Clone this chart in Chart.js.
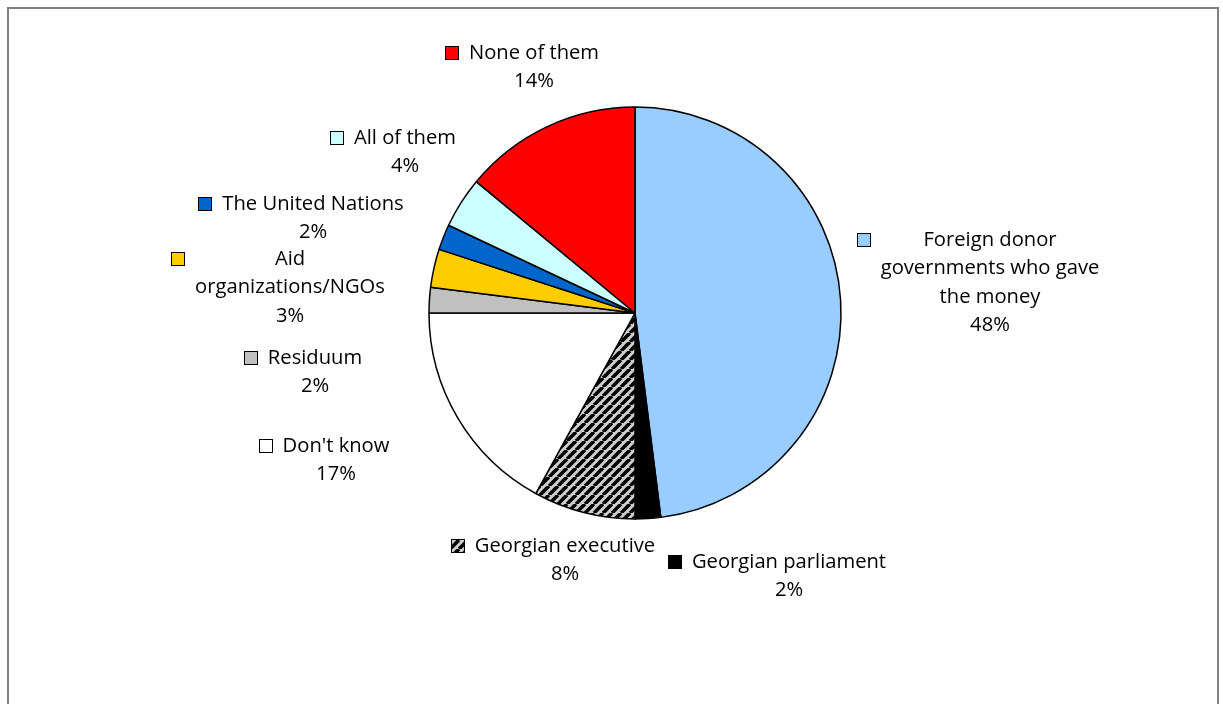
<!DOCTYPE html>
<html>
<head>
<meta charset="utf-8">
<script src="https://cdn.jsdelivr.net/npm/chart.js@4/dist/chart.umd.min.js"></script>
<style>
  html, body { margin: 0; padding: 0; background: #fff; overflow: hidden; }
  #frame { position: absolute; left: 7px; top: 7px; width: 1212px; height: 720px; border: 2px solid #808080; box-sizing: border-box; }
  #wrap { position: absolute; left: 0; top: 0; width: 1223px; height: 704px; }
</style>
</head>
<body>
<div id="frame"></div>
<div id="wrap"><canvas id="c"></canvas></div>
<script>
// Trust in aid spending — who should control it (shares, %)
const categories = ['Foreign donor governments who gave the money', 'Georgian parliament', 'Georgian executive',
  "Don't know", 'Residuum', 'Aid organizations/NGOs', 'The United Nations', 'All of them', 'None of them'];
const labelLines = [['Foreign donor', 'governments who gave', 'the money'], ['Georgian parliament'], ['Georgian executive'],
  ["Don't know"], ['Residuum'], ['Aid', 'organizations/NGOs'], ['The United Nations'], ['All of them'], ['None of them']];
const shares = [48, 2, 8, 17, 2, 3, 2, 4, 14];

const FONT = '20.2px "Open Sans", Lato, sans-serif';
const LINE_H = 28.5;
// label block anchors: [center x of text, mid y of first line], relative to pie centre
const labelAt = [[355, -73], [154, 249], [-70, 233], [-299, 133], [-320, 45], [-345, -54], [-322, -109], [-230, -175], [-101, -260]];

function hatch(size) {
  const p = document.createElement('canvas');
  p.width = p.height = size;
  const g = p.getContext('2d');
  g.fillStyle = '#cfcfcf';
  g.fillRect(0, 0, size, size);
  g.strokeStyle = '#000';
  g.lineWidth = size * 0.4;
  for (const o of [-size, 0, size]) {
    g.beginPath(); g.moveTo(o, size); g.lineTo(o + size, 0); g.stroke();
  }
  return g.createPattern(p, 'repeat');
}
const ctx2d = document.getElementById('c').getContext('2d');
const HATCH = hatch(9);
const colors = ['#99CCFF', '#000000', HATCH, '#FFFFFF', '#C0C0C0', '#FFCC00', '#0066CC', '#CCFFFF', '#FF0000'];

const labelPlugin = {
  id: 'pieLabels',
  afterDraw(chart) {
    const arc0 = chart.getDatasetMeta(0).data[0];
    const cx = arc0.x, cy = arc0.y;
    const g = chart.ctx;
    g.save();
    g.font = FONT;
    g.fillStyle = '#000';
    g.textAlign = 'center';
    g.textBaseline = 'middle';
    shares.forEach((v, i) => {
      const lines = [...labelLines[i], v + '%'];
      const x = cx + labelAt[i][0], y = cy + labelAt[i][1];
      let w = 0;
      lines.forEach((t, k) => {
        g.fillText(t, x, y + k * LINE_H);
        if (k < lines.length - 1) w = Math.max(w, g.measureText(t).width);
      });
      const mx = Math.round(x - w / 2 - 24), my = Math.round(y - 7);
      g.fillStyle = colors[i];
      g.fillRect(mx, my, 14, 14);
      g.strokeStyle = '#000';
      g.lineWidth = 1;
      g.strokeRect(mx + 0.5, my + 0.5, 13, 13);
      g.fillStyle = '#000';
    });
    g.restore();
  }
};

new Chart(ctx2d, {
  type: 'pie',
  data: { labels: categories, datasets: [{ data: shares, backgroundColor: colors, borderColor: '#000', borderWidth: 1.5 }] },
  options: {
    responsive: true, maintainAspectRatio: false, animation: false,
    radius: 206,
    layout: { padding: { left: 429, right: 382, top: 107, bottom: 185 } },
    plugins: { legend: { display: false }, tooltip: { enabled: false } },
  },
  plugins: [labelPlugin],
});
</script>
</body>
</html>
